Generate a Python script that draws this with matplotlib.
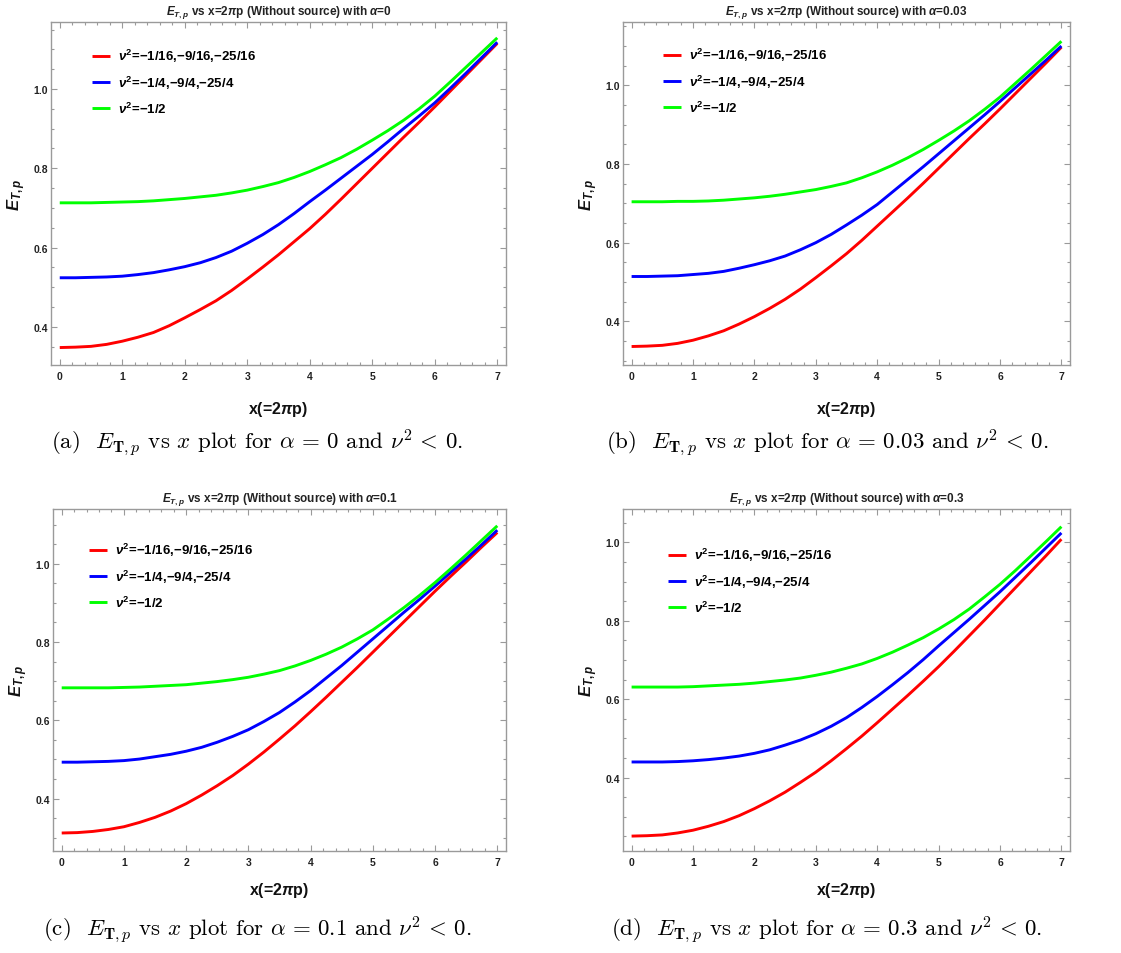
import matplotlib
matplotlib.use("Agg")
import matplotlib.pyplot as plt
from matplotlib.ticker import MultipleLocator

plt.rcParams["font.family"] = ["Liberation Sans", "DejaVu Sans"]
plt.rcParams["font.weight"] = "bold"
plt.rcParams["mathtext.fontset"] = "custom"
plt.rcParams["mathtext.rm"] = "Liberation Sans:bold"
plt.rcParams["mathtext.it"] = "Liberation Sans:italic:bold"
plt.rcParams["mathtext.bf"] = "Liberation Sans:bold"

# x = 2*pi*p sample points
x_vals = [0, 0.25, 0.5, 0.75, 1, 1.25, 1.5, 1.75, 2, 2.25, 2.5, 2.75, 3, 3.25, 3.5,
          3.75, 4, 4.25, 4.5, 4.75, 5, 5.25, 5.5, 5.75, 6, 6.25, 6.5, 6.75, 7]

# E_{T,p} for alpha = 0
red_a = [0.348, 0.349, 0.351, 0.356, 0.364, 0.374, 0.386, 0.403, 0.423, 0.444, 0.466, 0.492, 0.521, 0.551, 0.582,
         0.615, 0.648, 0.684, 0.722, 0.761, 0.800, 0.839, 0.878, 0.916, 0.955, 0.995, 1.035, 1.075, 1.115]
blue_a = [0.524, 0.524, 0.525, 0.526, 0.528, 0.532, 0.537, 0.544, 0.552, 0.562, 0.575, 0.591, 0.611, 0.633, 0.658,
          0.686, 0.716, 0.745, 0.775, 0.805, 0.835, 0.867, 0.900, 0.932, 0.965, 1.002, 1.040, 1.079, 1.118]
green_a = [0.713, 0.713, 0.713, 0.714, 0.715, 0.716, 0.718, 0.721, 0.724, 0.728, 0.732, 0.738, 0.745, 0.754, 0.764,
           0.777, 0.792, 0.809, 0.827, 0.848, 0.871, 0.895, 0.921, 0.950, 0.982, 1.018, 1.055, 1.092, 1.129]

# alpha = 0.03
red_b = [0.336, 0.337, 0.339, 0.344, 0.352, 0.363, 0.376, 0.393, 0.412, 0.433, 0.456, 0.482, 0.511, 0.541, 0.572,
         0.606, 0.642, 0.678, 0.714, 0.751, 0.789, 0.827, 0.865, 0.902, 0.940, 0.979, 1.018, 1.057, 1.097]
blue_b = [0.514, 0.514, 0.515, 0.516, 0.519, 0.522, 0.527, 0.535, 0.544, 0.554, 0.566, 0.582, 0.600, 0.621, 0.645,
          0.670, 0.697, 0.729, 0.761, 0.793, 0.826, 0.859, 0.892, 0.925, 0.959, 0.994, 1.029, 1.064, 1.100]
green_b = [0.704, 0.704, 0.704, 0.705, 0.705, 0.706, 0.708, 0.711, 0.714, 0.718, 0.723, 0.729, 0.735, 0.743, 0.752,
           0.765, 0.780, 0.797, 0.816, 0.837, 0.860, 0.884, 0.910, 0.939, 0.970, 1.005, 1.040, 1.076, 1.112]

# alpha = 0.1
red_c = [0.312, 0.313, 0.316, 0.321, 0.328, 0.339, 0.352, 0.368, 0.387, 0.409, 0.433, 0.459, 0.488, 0.519, 0.552,
         0.586, 0.622, 0.659, 0.697, 0.735, 0.774, 0.813, 0.852, 0.891, 0.930, 0.968, 1.005, 1.043, 1.080]
blue_c = [0.493, 0.493, 0.494, 0.495, 0.497, 0.501, 0.507, 0.513, 0.521, 0.531, 0.544, 0.559, 0.576, 0.597, 0.620,
          0.647, 0.676, 0.708, 0.740, 0.774, 0.808, 0.842, 0.876, 0.909, 0.943, 0.978, 1.013, 1.049, 1.086]
green_c = [0.683, 0.683, 0.683, 0.683, 0.684, 0.685, 0.687, 0.689, 0.691, 0.695, 0.699, 0.704, 0.710, 0.718, 0.727,
           0.739, 0.753, 0.769, 0.787, 0.808, 0.831, 0.859, 0.888, 0.919, 0.952, 0.987, 1.023, 1.060, 1.097]

# alpha = 0.3
red_d = [0.251, 0.252, 0.254, 0.259, 0.266, 0.276, 0.288, 0.303, 0.321, 0.341, 0.363, 0.388, 0.414, 0.443, 0.474,
         0.506, 0.540, 0.575, 0.610, 0.646, 0.683, 0.722, 0.762, 0.802, 0.843, 0.884, 0.925, 0.966, 1.008]
blue_d = [0.440, 0.440, 0.440, 0.441, 0.443, 0.446, 0.450, 0.455, 0.462, 0.471, 0.483, 0.496, 0.512, 0.531, 0.553,
          0.579, 0.607, 0.637, 0.668, 0.701, 0.736, 0.770, 0.804, 0.839, 0.874, 0.911, 0.948, 0.986, 1.024]
green_d = [0.631, 0.631, 0.631, 0.631, 0.632, 0.634, 0.636, 0.638, 0.641, 0.645, 0.649, 0.654, 0.661, 0.669, 0.679,
           0.690, 0.704, 0.720, 0.738, 0.757, 0.779, 0.803, 0.830, 0.861, 0.893, 0.928, 0.965, 1.002, 1.040]

alphas = ["0", "0.03", "0.1", "0.3"]
panel_tags = ["a", "b", "c", "d"]
series_labels = [
    r"$\nu^2$=−1/16,−9/16,−25/16",
    r"$\nu^2$=−1/4,−9/4,−25/4",
    r"$\nu^2$=−1/2",
]
series_colors = ["#ff0000", "#0000ff", "#00ff00"]

W, H = 1121, 954
fig = plt.figure(figsize=(W / 100, H / 100), dpi=100)


def px_axes(left, right, top, bottom):
    return fig.add_axes([left / W, 1 - bottom / H, (right - left) / W, (bottom - top) / H])


# frame boxes in pixels: left, right, top, bottom
frames = [(51, 506, 23, 366), (623, 1070, 23, 366), (53, 506, 510, 852), (623, 1070, 510, 852)]
ylims = [(0.304, 1.169), (0.289, 1.161), (0.266, 1.140), (0.213, 1.085)]
legend_offsets = [(41, 34), (40, 33), (36, 41), (45, 46)]
xlabel_offsets = [34, 34, 29, 29]
caption_pos = [(257, 443), (827, 443), (257, 930), (827, 930)]
data = [(red_a, blue_a, green_a), (red_b, blue_b, green_b),
        (red_c, blue_c, green_c), (red_d, blue_d, green_d)]

for i, (frame, ylim, curves) in enumerate(zip(frames, ylims, data)):
    left, right, top, bottom = frame
    ax = px_axes(left, right, top, bottom)
    for ys, col, lab in zip(curves, series_colors, series_labels):
        ax.plot(x_vals, ys, color=col, lw=2.1, label=lab, solid_capstyle="butt")

    ax.set_xlim(-0.14, 7.14)
    ax.set_ylim(*ylim)
    ax.xaxis.set_major_locator(MultipleLocator(1))
    ax.xaxis.set_minor_locator(MultipleLocator(0.2))
    ax.yaxis.set_major_locator(MultipleLocator(0.2))
    ax.yaxis.set_minor_locator(MultipleLocator(0.05))
    ax.yaxis.set_major_formatter(plt.FuncFormatter(lambda v, p: f"{v:.1f}"))
    ax.tick_params(which="both", direction="in", top=True, right=True,
                   color="#9a9a9a", width=0.8, labelsize=7.5, labelcolor="#222222")
    ax.tick_params(which="major", length=4.5)
    ax.tick_params(which="minor", length=2.5)
    ax.tick_params(axis="x", pad=4.5)
    ax.tick_params(axis="y", pad=2)
    for sp in ax.spines.values():
        sp.set_color("#9a9a9a")
        sp.set_linewidth(1.0)

    w_px, h_px = right - left, bottom - top
    ax.set_title(rf"$E_{{T,p}}$ vs x=2$\pi$p (Without source) with $\alpha$={alphas[i]}",
                 fontsize=8.5, fontweight="bold", color="#222222", pad=6)
    ax.set_xlabel(r"x(=2$\pi$p)", fontsize=11.5, fontweight="bold", color="#111111")
    ax.xaxis.set_label_coords(0.5, -xlabel_offsets[i] / h_px)
    ax.set_ylabel(r"$E_{T,p}$", fontsize=12, color="#111111")
    ax.yaxis.set_label_coords(-23 / w_px, 0.5)

    lx, ly = legend_offsets[i]
    ax.legend(loc="upper left", bbox_to_anchor=(lx / w_px, 1 - (ly - 9) / h_px),
              frameon=False, borderpad=0, borderaxespad=0,
              handlelength=1.4, handletextpad=0.6, labelspacing=0.72,
              prop={"weight": "bold", "size": 9.5})

    cx, cy = caption_pos[i]
    fig.text(cx / W, 1 - cy / H,
             rf"({panel_tags[i]})  $E_{{\mathbf{{T}},p}}$ vs $x$ plot for $\alpha\,=\,{alphas[i]}$ and $\nu^2\,<\,0$.",
             ha="center", va="center", fontsize=16.5, family="cmr10", fontweight="normal",
             math_fontfamily="cm")

fig.savefig("out.png", dpi=100)
